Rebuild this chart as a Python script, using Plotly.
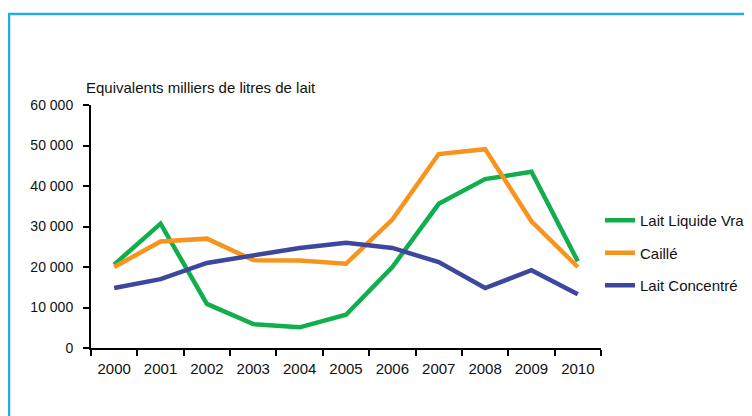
import plotly.graph_objects as go

years = ["2000", "2001", "2002", "2003", "2004", "2005", "2006", "2007", "2008", "2009", "2010"]
lait_liquide_vrac = [20600, 30700, 10900, 5900, 5100, 8200, 20000, 35600, 41700, 43500, 21400]
caille = [20000, 26300, 27000, 21700, 21600, 20800, 31700, 47900, 49100, 31300, 20000]
lait_concentre = [14800, 17000, 21000, 22900, 24700, 26000, 24700, 21200, 14800, 19200, 13300]

series_names = ["Lait Liquide Vrac", "Caillé", "Lait Concentré"]
series_colors = ["#10AE4C", "#F7941E", "#3C479E"]

y_tickvals = [0, 10000, 20000, 30000, 40000, 50000, 60000]
y_ticktext = ["0", "10 000", "20 000", "30 000", "40 000", "50 000", "60 000"]
y_title = "Equivalents milliers de litres de lait"

FONT = "Liberation Sans, Arial, sans-serif"

fig = go.Figure()
for name, vals, col in zip(series_names, [lait_liquide_vrac, caille, lait_concentre], series_colors):
    fig.add_trace(go.Scatter(x=years, y=vals, name=name, mode="lines",
                             line=dict(color=col, width=4.5), legendgroup=name))

# page body margin offsets the figure by 8px
OFF = 8
W, H = 744, 408
L = 91 - OFF
T = 105 - OFF
R = W - (601 - OFF)
B = H - (348 - OFF)
pw, ph = W - L - R, H - T - B

def px_x(p):
    return (p - OFF - L) / pw

def px_y(p):
    return (H - B - (p - OFF)) / ph

fig.update_layout(
    width=W, height=H,
    margin=dict(l=L, r=R, t=T, b=B, autoexpand=False),
    paper_bgcolor="white", plot_bgcolor="white",
    font=dict(family=FONT, size=14, color="#111111"),
    showlegend=True,
    legend=dict(x=px_x(600), y=px_y(204), xanchor="left", yanchor="top",
                traceorder="grouped", tracegroupgap=10,
                font=dict(family=FONT, size=15, color="#111111"),
                bgcolor="rgba(0,0,0,0)", itemwidth=30),
    xaxis=dict(type="category", range=[-0.5, 10.5], tickson="boundaries",
               showline=True, linecolor="black", linewidth=2,
               ticks="outside", ticklen=6, tickwidth=1.5, tickcolor="black",
               showgrid=False, zeroline=False, ticklabelstandoff=6,
               tickfont=dict(family=FONT, size=15)),
    yaxis=dict(range=[0, 60000], tickvals=y_tickvals, ticktext=y_ticktext,
               showline=True, linecolor="black", linewidth=2,
               ticks="outside", ticklen=6, tickwidth=1.5, tickcolor="black",
               showgrid=False, zeroline=False, ticklabelstandoff=7,
               tickfont=dict(family=FONT, size=14)),
    shapes=[dict(type="rect", xref="paper", yref="paper",
                 x0=px_x(9), x1=px_x(780), y0=px_y(14), y1=px_y(450),
                 line=dict(color="#29ABE2", width=2.5), layer="below")],
    annotations=[dict(text=y_title, xref="paper", yref="paper",
                      x=px_x(84), y=px_y(97.5), xanchor="left", yanchor="bottom",
                      showarrow=False, font=dict(family=FONT, size=15, color="#111111"))],
)

fig.write_html("out.html")
